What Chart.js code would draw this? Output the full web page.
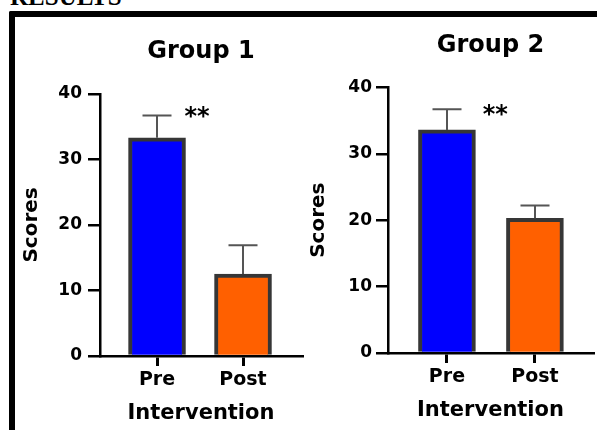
<!DOCTYPE html>
<html>
<head>
<meta charset="utf-8">
<script src="https://cdn.jsdelivr.net/npm/chart.js@4/dist/chart.umd.min.js"></script>
<style>
  html, body { margin: 0; padding: 0; background: #fff; }
  body { width: 597px; height: 430px; position: relative; overflow: hidden; }
  .heading {
    position: absolute; left: 10px; top: -16px;
    font: bold 25px/25px "Liberation Serif", "Times New Roman", serif;
    color: #000; white-space: nowrap;
  }
  .frame {
    position: absolute; left: 9px; top: 11px; width: 800px; height: 600px;
    border-left: 6px solid #000; border-top: 6px solid #000;
    border-top-left-radius: 2px;
  }
  .panel { position: absolute; top: 17px; }
  #g1 { left: 16px; }
  #g2 { left: 306px; }
</style>
</head>
<body>
<div class="heading">RESULTS</div>
<div class="frame"></div>
<canvas id="g1" class="panel" width="290" height="413"></canvas>
<canvas id="g2" class="panel" width="291" height="413"></canvas>
<script>
// Mean scores before and after the intervention, with one-sided SD whiskers
const categories = ['Pre', 'Post'];
const group1Means = [33.3, 12.5];
const group1SD = [3.4, 4.4];
const group2Means = [33.6, 20.3];
const group2SD = [3.1, 1.9];
const yTickValues = [0, 10, 20, 30, 40];
const significance = '**';

const barColors = ['#0000ff', '#ff6000'];
const FONT = '"DejaVu Sans", "Liberation Sans", Arial, sans-serif';

// Whiskers (upward only) and the significance marker, placed through the chart scales
const errorBarPlugin = {
  id: 'errorBars',
  afterDatasetsDraw(chart, args, opts) {
    const { ctx, scales: { x, y } } = chart;
    const meta = chart.getDatasetMeta(0);
    ctx.save();
    ctx.strokeStyle = opts.color;
    ctx.lineWidth = opts.lineWidth;
    meta.data.forEach((bar, i) => {
      const top = y.getPixelForValue(opts.means[i] + opts.sd[i]);
      const base = y.getPixelForValue(opts.means[i]);
      const cx = Math.round(bar.x);
      ctx.beginPath();
      ctx.moveTo(cx, base);
      ctx.lineTo(cx, top);
      ctx.moveTo(cx - opts.capWidth / 2, top);
      ctx.lineTo(cx + opts.capWidth / 2, top);
      ctx.stroke();
    });
    if (opts.star) {
      ctx.fillStyle = '#000';
      ctx.font = 'bold 24px ' + FONT;
      ctx.textAlign = 'center';
      ctx.textBaseline = 'middle';
      ctx.fillText(opts.star.text,
        x.getPixelForValue(opts.star.x),
        y.getPixelForValue(opts.star.y) + 4);
    }
    ctx.restore();
  }
};

function makePanel(canvasId, title, means, sd, geom) {
  return new Chart(document.getElementById(canvasId), {
    type: 'bar',
    data: {
      datasets: [{
        data: categories.map((c, i) => ({ x: i, y: means[i] })),
        backgroundColor: barColors,
        borderColor: '#363636',
        borderWidth: 4,
        barThickness: geom.barThickness
      }]
    },
    options: {
      responsive: false,
      animation: false,
      events: [],
      layout: { padding: { left: 0, right: geom.padRight, top: 0, bottom: 0 } },
      plugins: {
        legend: { display: false },
        tooltip: { enabled: false },
        title: {
          display: true,
          text: title,
          fullSize: false,
          color: '#000',
          font: { family: FONT, size: 24, weight: 'bold' },
          padding: { top: geom.titleTop, bottom: geom.titleBottom }
        },
        errorBars: {
          means: means, sd: sd,
          color: '#555', lineWidth: 2, capWidth: 29,
          star: { text: significance, x: geom.starX, y: geom.starY }
        }
      },
      scales: {
        x: {
          type: 'linear',
          bounds: 'data',
          offset: false,
          min: geom.xMin,
          max: geom.xMax,
          z: 1,
          afterBuildTicks: s => { s.ticks = categories.map((c, i) => ({ value: i })); },
          afterFit: s => { s.height = geom.xHeight; },
          ticks: {
            callback: v => categories[v] ?? '',
            color: '#000',
            padding: 3,
            maxRotation: 0,
            autoSkip: false,
            font: { family: FONT, size: 19, weight: 'bold' }
          },
          grid: { offset: false, drawOnChartArea: false, drawTicks: true, tickLength: 10, color: '#000', lineWidth: 3 },
          border: { display: true, color: '#000', width: 2.5 },
          title: {
            display: true, text: 'Intervention', color: '#000',
            font: { family: FONT, size: 21, weight: 'bold' },
            padding: { top: 0, bottom: geom.xTitleBottom }
          }
        },
        y: {
          min: 0,
          max: 40,
          z: 1,
          afterBuildTicks: s => { s.ticks = yTickValues.map(v => ({ value: v })); },
          afterFit: s => { s.width = geom.yWidth; },
          ticks: {
            color: '#000',
            padding: geom.yTickPad,
            font: { family: FONT, size: 17, weight: 'bold' }
          },
          grid: { drawOnChartArea: false, drawTicks: true, tickLength: 12, color: '#000', lineWidth: 2.5 },
          border: { display: true, color: '#000', width: 2.5 },
          title: {
            display: true, text: 'Scores', color: '#000',
            font: { family: FONT, size: 20, weight: 'bold' },
            padding: { top: geom.yTitleTop, bottom: 0 }
          }
        }
      }
    },
    plugins: [errorBarPlugin]
  });
}

makePanel('g1', 'Group 1', group1Means, group1SD, {
  barThickness: 57, padRight: 4, titleTop: 20, titleBottom: 28,
  xMin: -0.663, xMax: 1.686, xHeight: 74, xTitleBottom: 4,
  yWidth: 84, yTickPad: 6, yTitleTop: 4,
  starX: 0.465, starY: 37.0
});

makePanel('g2', 'Group 2', group2Means, group2SD, {
  barThickness: 57, padRight: 4, titleTop: 14, titleBottom: 27.6,
  xMin: -0.670, xMax: 1.66, xHeight: 77, xTitleBottom: 7,
  yWidth: 82, yTickPad: 4, yTitleTop: 1,
  starX: 0.55, starY: 36.4
});
</script>
</body>
</html>
